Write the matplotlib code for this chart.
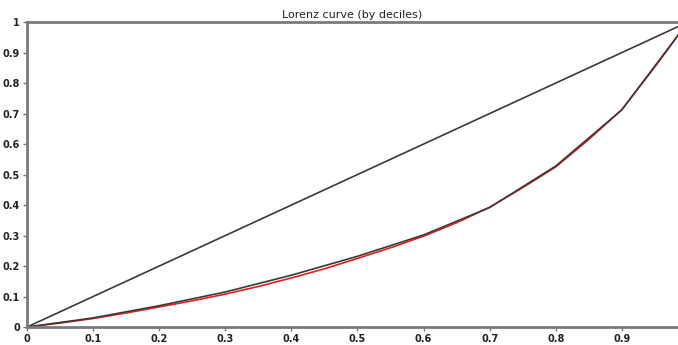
import numpy as np
import matplotlib.pyplot as plt

# population share (deciles) and cumulative income share
pop = [0, 0.1, 0.2, 0.3, 0.4, 0.5, 0.6, 0.7, 0.8, 0.9, 1.0]
share = [0, 0.03, 0.07, 0.115, 0.17, 0.232, 0.302, 0.392, 0.528, 0.712, 1.0]

# fitted (smooth) Lorenz curve
fit_x = [0, 0.05, 0.1, 0.15, 0.2, 0.25, 0.3, 0.35, 0.4, 0.45, 0.5, 0.55,
         0.6, 0.65, 0.7, 0.75, 0.8, 0.85, 0.9, 0.95, 1.0]
fit_y = [0, 0.013, 0.028, 0.046, 0.066, 0.086, 0.108, 0.133, 0.161, 0.191,
         0.225, 0.26, 0.298, 0.342, 0.393, 0.457, 0.525, 0.615, 0.713, 0.853, 1.0]

fig = plt.figure(figsize=(6.78, 3.45), dpi=100)
ax = fig.add_axes([0.0398, 0.052, 0.9602, 0.884])

ax.plot([0, 1], [0, 1], color='#3a3a3a', lw=1.2)
ax.plot(fit_x, fit_y, color='#e02020', lw=1.2)
ax.plot(pop, share, color='#3a3a3a', lw=1.2)

ax.set_xlim(0, 0.985)
ax.set_ylim(0, 1)
ax.set_xticks(np.arange(0, 1.0, 0.1))
ax.set_xticklabels(['0', '0.1', '0.2', '0.3', '0.4', '0.5', '0.6', '0.7', '0.8', '0.9'])
ax.set_yticks(np.arange(0, 1.01, 0.1))
ax.set_yticklabels(['0', '0.1', '0.2', '0.3', '0.4', '0.5', '0.6', '0.7', '0.8', '0.9', '1'])

for loc, spine in ax.spines.items():
    if loc == 'right':
        spine.set_color('none')
    else:
        spine.set_color('#7a7a7a')
        spine.set_linewidth(2)

ax.tick_params(direction='out', length=3, width=1, color='#7a7a7a',
               labelsize=7, pad=2)
for lab in ax.get_xticklabels() + ax.get_yticklabels():
    lab.set_fontweight('bold')
    lab.set_color('#222222')

ax.set_title('Lorenz curve (by deciles)', fontsize=8, color='#222222', pad=3)

plt.savefig('out.png', dpi=100)
